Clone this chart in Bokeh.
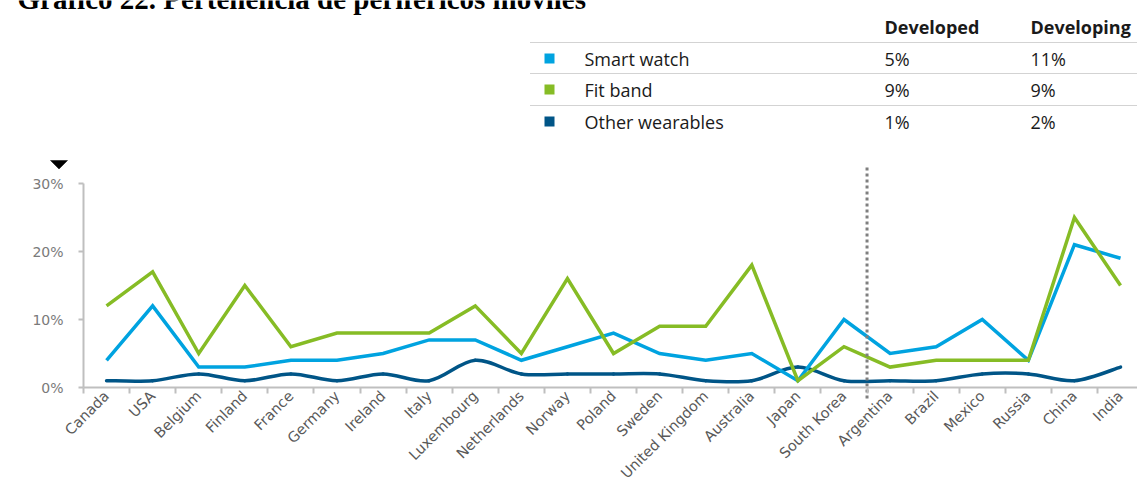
import math
from bokeh.plotting import figure
from bokeh.models import Range1d, FixedTicker
from bokeh.core.properties import value
from bokeh.embed import file_html
from bokeh.resources import INLINE

# --- data -------------------------------------------------------------
countries = ["Canada", "USA", "Belgium", "Finland", "France", "Germany", "Ireland",
             "Italy", "Luxembourg", "Netherlands", "Norway", "Poland", "Sweden",
             "United Kingdom", "Australia", "Japan", "South Korea", "Argentina",
             "Brazil", "Mexico", "Russia", "China", "India"]
smart_watch = [4, 12, 3, 3, 4, 4, 5, 7, 7, 4, 6, 8, 5, 4, 5, 1, 10, 5, 6, 10, 4, 21, 19]
fit_band = [12, 17, 5, 15, 6, 8, 8, 8, 12, 5, 16, 5, 9, 9, 18, 1, 6, 3, 4, 4, 4, 25, 15]
other_wearables = [1, 1, 2, 1, 2, 1, 2, 1, 4, 2, 2, 2, 2, 1, 1, 3, 1, 1, 1, 2, 2, 1, 3]

series_names = ["Smart watch", "Fit band", "Other wearables"]
developed = ["5%", "9%", "1%"]
developing = ["11%", "9%", "2%"]
y_ticks = [0, 10, 20, 30]
y_tick_labels = ["0%", "10%", "20%", "30%"]
split_after = "South Korea"   # last developed market

C_SMART = "#00A3E0"
C_FIT = "#86BC25"
C_OTHER = "#005587"
colors = [C_SMART, C_FIT, C_OTHER]

# --- canvas geometry (pixels) -----------------------------------------
W, H = 1137, 488
LEFT = 83            # pixel column of the value axis
AXIS_Y = 387         # pixel row of the 0% baseline
STEP = 46.09         # pixels per country
PXP = 6.8            # pixels per percentage point

def X(px):           # canvas pixel -> data x
    return (px - LEFT) / STEP - 0.5

def Y(py):           # canvas pixel -> data y
    return (AXIS_Y - py) / PXP

n = len(countries)
xs = list(range(n))

# the frame covers the whole canvas; both axes sit at fixed data positions
p = figure(frame_width=W, frame_height=H,
           x_range=Range1d(X(0), X(W)), y_range=Range1d(Y(H), Y(0)),
           output_backend="svg", toolbar_location=None,
           min_border=0, min_border_left=0, min_border_right=0,
           min_border_top=0, min_border_bottom=0)
p.grid.visible = False
p.outline_line_color = None

# --- axes ---------------------------------------------------------------
AX = "#bfbfbf"
p.yaxis.fixed_location = -0.5
p.yaxis.bounds = (y_ticks[0], y_ticks[-1])
p.yaxis.ticker = FixedTicker(ticks=y_ticks)
p.yaxis.major_label_overrides = dict(zip(y_ticks, y_tick_labels))
p.yaxis.axis_line_color = AX
p.yaxis.axis_line_width = 2
p.yaxis.major_tick_line_color = AX
p.yaxis.major_tick_line_width = 2
p.yaxis.major_tick_out = 5
p.yaxis.major_tick_in = 0
p.yaxis.minor_tick_line_color = None
p.yaxis.major_label_standoff = 15
p.yaxis.major_label_text_font = "DejaVu Sans"
p.yaxis.major_label_text_font_size = "14px"
p.yaxis.major_label_text_color = "#7a7a7a"

p.xaxis.fixed_location = 0
p.xaxis.bounds = (-0.5, X(W))
p.xaxis.ticker = FixedTicker(ticks=xs, minor_ticks=[i - 0.5 for i in range(n + 1)])
p.xaxis.major_label_overrides = dict(zip(xs, countries))
p.xaxis.major_label_orientation = math.pi / 4
p.xaxis.axis_line_color = AX
p.xaxis.axis_line_width = 2
p.xaxis.major_tick_line_color = None
p.xaxis.major_tick_out = 0
p.xaxis.major_tick_in = 0
p.xaxis.minor_tick_line_color = AX
p.xaxis.minor_tick_line_width = 2
p.xaxis.minor_tick_out = 6
p.xaxis.minor_tick_in = 0
p.xaxis.major_label_standoff = 0
p.xaxis.major_label_text_font = "DejaVu Sans"
p.xaxis.major_label_text_font_size = "14.5px"
p.xaxis.major_label_text_color = "#595959"

# --- series -------------------------------------------------------------
def smooth_segments(x, y):
    """Catmull-Rom spline through the points, as cubic Bezier segments."""
    m = len(x)
    seg = dict(x0=[], y0=[], x1=[], y1=[], cx0=[], cy0=[], cx1=[], cy1=[])
    for i in range(m - 1):
        a = max(i - 1, 0)
        d = min(i + 2, m - 1)
        seg["x0"].append(x[i]); seg["y0"].append(y[i])
        seg["x1"].append(x[i + 1]); seg["y1"].append(y[i + 1])
        seg["cx0"].append(x[i] + (x[i + 1] - x[a]) / 6)
        seg["cy0"].append(y[i] + (y[i + 1] - y[a]) / 6)
        seg["cx1"].append(x[i + 1] - (x[d] - x[i]) / 6)
        seg["cy1"].append(y[i + 1] - (y[d] - y[i]) / 6)
    return seg

p.bezier(**smooth_segments(xs, other_wearables), line_color=C_OTHER,
         line_width=3.5, line_cap="round")
p.line(xs, smart_watch, line_color=C_SMART, line_width=3.5, line_join="miter")
p.line(xs, fit_band, line_color=C_FIT, line_width=3.5, line_join="miter")

# divider between developed and developing markets
split_x = countries.index(split_after) + 0.5
p.segment(x0=[split_x], x1=[split_x], y0=[Y(167)], y1=[Y(398)],
          line_color="#7f7f7f", line_width=3, line_dash="3 3")

# small pointer above the value axis
p.patch(x=[X(50), X(67), X(58.5)], y=[Y(160), Y(160), Y(168.5)],
        fill_color="#000000", line_color="#000000", line_width=0.5)

# --- title and summary table -------------------------------------------
p.text(x=[X(17)], y=[Y(-2)], text=["Gráfico 22. Pertenencia de periféricos móviles"],
       text_font=value("Liberation Serif"), text_font_style="bold",
       text_font_size="29px", text_color="#000000", text_baseline="alphabetic")

FONT = value("Open Sans")
col_dev, col_dvg = X(884), X(1030)
p.text(x=[col_dev, col_dvg], y=[Y(26)] * 2, text=["Developed", "Developing"],
       text_font=FONT, text_font_style="bold", text_font_size="18px",
       text_color="#1a1a1a", text_baseline="middle")

row_y = [Y(58), Y(89), Y(121)]
sep_y = [Y(42), Y(73), Y(105)]
p.segment(x0=[X(530)] * 3, x1=[X(W)] * 3, y0=sep_y, y1=sep_y,
          line_color="#a6a6a6", line_width=1, line_dash="1 1")
p.scatter(x=[X(549)] * 3, y=row_y, marker="square", size=10,
          fill_color=colors, line_color=None)
for xcol, texts in [(X(584), series_names), (col_dev, developed), (col_dvg, developing)]:
    p.text(x=[xcol] * 3, y=row_y, text=texts, text_font=FONT,
           text_font_size="18px", text_color="#1a1a1a", text_baseline="middle")

open("out.html", "w").write(file_html(p, INLINE))
